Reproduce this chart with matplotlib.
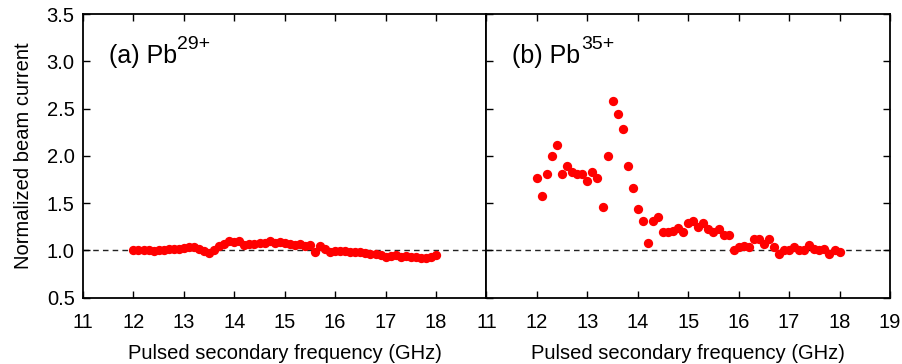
import numpy as np
import matplotlib
matplotlib.use("Agg")
import matplotlib.pyplot as plt

plt.rcParams['font.family'] = ['Liberation Sans', 'DejaVu Sans']

freq_a = [12.0, 12.1, 12.2, 12.3, 12.4, 12.5, 12.6, 12.7, 12.8, 12.9,
          13.0, 13.1, 13.2, 13.3, 13.4, 13.5, 13.6, 13.7, 13.8, 13.9,
          14.0, 14.1, 14.2, 14.3, 14.4, 14.5, 14.6, 14.7, 14.8, 14.9,
          15.0, 15.1, 15.2, 15.3, 15.4, 15.5, 15.6, 15.7, 15.8, 15.9,
          16.0, 16.1, 16.2, 16.3, 16.4, 16.5, 16.6, 16.7, 16.8, 16.9,
          17.0, 17.1, 17.2, 17.3, 17.4, 17.5, 17.6, 17.7, 17.8, 17.9, 18.0]
current_a = [1.00, 1.00, 1.00, 1.00, 0.99, 1.00, 1.00, 1.02, 1.02, 1.02,
             1.03, 1.04, 1.04, 1.02, 0.99, 0.97, 1.00, 1.05, 1.07, 1.10,
             1.09, 1.10, 1.06, 1.07, 1.07, 1.08, 1.08, 1.10, 1.08, 1.09,
             1.08, 1.07, 1.06, 1.07, 1.05, 1.06, 0.98, 1.05, 1.02, 0.98,
             0.99, 0.99, 0.99, 0.98, 0.98, 0.98, 0.97, 0.96, 0.96, 0.95,
             0.93, 0.94, 0.95, 0.93, 0.94, 0.93, 0.93, 0.92, 0.92, 0.93, 0.95]

freq_b = list(freq_a)
current_b = [1.77, 1.58, 1.81, 2.00, 2.12, 1.81, 1.89, 1.83, 1.81, 1.81,
             1.73, 1.83, 1.77, 1.46, 2.00, 2.58, 2.44, 2.28, 1.89, 1.66,
             1.44, 1.31, 1.08, 1.31, 1.35, 1.19, 1.19, 1.21, 1.24, 1.19,
             1.29, 1.31, 1.25, 1.29, 1.23, 1.19, 1.23, 1.16, 1.16, 1.00,
             1.04, 1.05, 1.04, 1.12, 1.12, 1.07, 1.12, 1.04, 0.96, 1.00,
             1.00, 1.04, 1.00, 1.00, 1.06, 1.02, 1.00, 1.02, 0.96, 1.00, 0.98]

x_ticks = [11, 12, 13, 14, 15, 16, 17, 18, 19]
y_ticks = [0.5, 1.0, 1.5, 2.0, 2.5, 3.0, 3.5]
labels = ['(a) Pb', '(b) Pb']
charges = ['29+', '35+']
xlabel = 'Pulsed secondary frequency (GHz)'
ylabel = 'Normalized beam current'

fig = plt.figure(figsize=(9.03, 3.64), dpi=100)
W, H = 903, 364
left, right, top, bottom = 83, 890, 14, 297.7
mid = (left + right) / 2
axa = fig.add_axes([left / W, 1 - bottom / H, (mid - left) / W, (bottom - top) / H])
axb = fig.add_axes([mid / W, 1 - bottom / H, (right - mid) / W, (bottom - top) / H])

fs = 14.5
for i, (ax, f, c) in enumerate([(axa, freq_a, current_a), (axb, freq_b, current_b)]):
    ax.axhline(1.0, color='#222222', lw=1.0, ls=(0, (4, 3)), zorder=1)
    ax.plot(f, c, 'o', color='#ff0000', markersize=6.7, markeredgewidth=0, zorder=3)
    ax.set_xlim(11, 19)
    ax.set_ylim(0.5, 3.5)
    ax.set_xticks(x_ticks)
    ax.set_yticks(y_ticks)
    ax.set_yticklabels(['%.1f' % v for v in y_ticks])
    ax.set_xticklabels([str(v) for v in x_ticks])
    ax.tick_params(direction='in', length=5, width=1, labelsize=fs, top=True,
                   right=(i == 1))
    ax.tick_params(axis='x', pad=11)
    ax.tick_params(axis='y', pad=6)
    for s in ax.spines.values():
        s.set_linewidth(1.3)
    ax.set_xlabel(xlabel, fontsize=fs, labelpad=9)
    t = ax.text(0.064, 0.827, labels[i], transform=ax.transAxes, fontsize=18,
                ha='left', va='baseline')
    ax.annotate(charges[i], xy=(1, 1), xycoords=t, xytext=(0.3, 5.5),
                textcoords='offset points', fontsize=14, ha='left', va='top')

axa.set_ylabel(ylabel, fontsize=fs, labelpad=10)
axa.get_xticklabels()[-1].set_visible(False)
axb.tick_params(axis='y', labelleft=False)

fig.savefig('out.png', dpi=100)
